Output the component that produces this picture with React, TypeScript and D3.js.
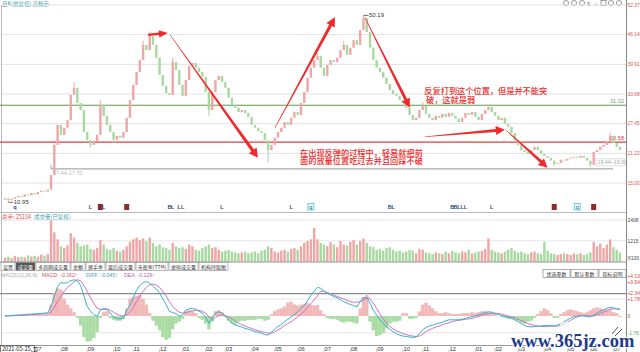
import React from 'react';
import * as d3 from 'd3';

// each value ~ 3 trading days, grouped by month (2021-05 .. 2023-07)
const closes = [
  11.8, 11.4,
  11.7, 12.0, 12.3, 12.1, 12.6, 12.4, 12.9,
  12.6, 13.1, 13.4, 13.2, 13.6, 16.7, 23.0, 27.2,
  25.1, 26.6, 28.2, 33.5, 35.0, 31.8, 30.3, 25.7,
  24.0, 23.0, 23.6, 25.1, 31.4, 29.1, 27.2, 25.7,
  24.1, 24.9, 24.5, 25.7, 28.7, 32.4,
  35.6, 38.3, 40.8, 44.0, 42.9, 45.9, 44.0, 41.3,
  37.7, 35.4, 33.9, 33.5, 40.4, 38.7, 35.6,
  33.3, 36.6, 39.6, 40.2, 39.2, 38.3, 37.3,
  34.1, 30.3, 34.1, 36.6, 37.5, 36.2,
  35.0, 32.9, 31.4, 30.8, 29.9, 30.3, 29.7, 28.9,
  27.2, 26.6, 25.9, 25.5, 24.0, 21.9, 23.0,
  24.5, 25.7, 26.6, 27.8, 27.2, 28.7, 29.9,
  29.3, 31.8, 34.1, 37.1, 39.2, 40.8, 41.7, 39.2,
  37.5, 39.8, 40.8, 40.4, 41.3, 42.9, 44.0, 41.9,
  43.4, 45.0, 44.0, 47.1, 49.6, 46.7, 43.4, 40.8,
  39.2, 38.3, 37.1, 35.8, 34.5, 33.7, 33.3, 32.4,
  31.8, 30.8, 29.3, 28.2, 28.7, 30.3,
  31.2, 29.5, 28.7, 28.2, 29.1, 28.7, 29.5, 28.9,
  29.7, 29.1, 28.5, 27.8, 28.7, 29.7, 29.3, 29.9,
  28.9, 28.2, 29.5, 30.3, 31.0, 29.9,
  29.1, 28.2, 28.7, 27.4, 26.8, 25.5, 24.0,
  23.0, 21.9, 21.5, 21.1, 21.9, 22.6, 21.9, 21.1,
  20.7, 20.3, 19.7, 19.0, 19.2, 19.9, 19.7,
  20.1, 20.3, 20.5, 20.3, 20.7, 20.3, 19.7,
  18.8, 21.5, 21.9, 22.6, 23.0, 23.6, 24.9,
  23.4, 22.6, 21.9,
];
const firstOpen = 11.5;

const volumes = [
  250, 300, 220, 350, 280, 300, 260, 380, 320, 350, 300, 420, 360, 450,
  2400, 1700, 1300,
  900, 800, 950, 1650, 1400, 1100, 900, 950,
  1000, 750, 700, 800, 1250, 1000, 750, 700,
  800, 650, 600, 700, 900, 1150,
  1300, 1400, 1250, 1350, 1200, 1400, 1100, 900,
  1000, 850, 800, 700, 1100, 900, 800,
  850, 750, 1000, 900, 700, 650, 800,
  900, 1000, 800, 850, 700, 600,
  650, 700, 600, 550, 500, 550, 600, 500,
  550, 600, 500, 650, 700, 900, 800,
  600, 550, 650, 700, 600, 750, 800,
  700, 900, 1100, 1200, 1300, 1950, 1300, 1100,
  1000, 900, 1150, 1000, 850, 1200, 1000, 950,
  1150, 1250, 1000, 1200, 1350, 1100, 900, 850,
  700, 750, 650, 800, 850, 700, 600, 650,
  550, 600, 700, 650, 500, 750,
  700, 550, 500, 450, 550, 500, 450, 600,
  500, 650, 550, 500, 600, 550, 700, 500,
  550, 600, 650, 750, 1350, 700,
  600, 550, 500, 600, 700, 800, 650,
  550, 600, 500, 450, 550, 600, 500, 450,
  1150, 650, 500, 450, 400, 450, 500,
  450, 400, 500, 450, 500, 400, 450,
  550, 1150, 900, 1050, 800, 1000, 1300,
  850, 700, 550,
];

const diffLine = [
  0.0, 0.02, 0.05, 0.08, 0.1, 0.12, 0.15, 0.18, 0.2, 0.22, 0.25, 0.28, 0.3, 0.33,
  1.0, 2.1, 3.1,
  3.5, 3.45, 3.5, 3.7, 3.8, 3.7, 3.2, 2.1,
  1.0, 0.5, 0.15, -0.05, 0.6, 0.8, 0.7, 0.3,
  -0.1, -0.25, -0.3, -0.2, 0.6, 1.1,
  1.9, 2.7, 3.2, 3.5, 3.6, 3.45, 3.1, 2.8,
  2.4, 1.8, 1.2, 0.5, 0.35, 0.25, 0.0,
  0.1, 0.6, 0.75, 0.8, 0.7, 0.5, 0.3,
  -0.1, -0.75, -0.2, 0.3, 0.45, 0.3,
  0.0, -0.4, -0.75, -0.95, -1.05, -1.15, -1.3, -1.4,
  -1.5, -1.65, -1.7, -1.8, -1.95, -2.0, -1.7,
  -1.4, -1.1, -0.9, -0.6, -0.35, -0.1, 0.15,
  0.45, 0.8, 1.1, 1.6, 2.2, 2.6, 3.0, 2.9,
  2.6, 2.4, 2.2, 2.05, 1.9, 1.7, 1.5, 1.35,
  1.2, 1.1, 0.95, 1.5, 1.95, 1.9, 1.35, 0.6,
  0.1, -0.4, -0.8, -1.1, -1.4, -1.65, -1.85, -2.0,
  -2.1, -2.15, -2.2, -2.25, -2.2, -1.85,
  -1.45, -1.2, -1.05, -0.95, -0.85, -0.75, -0.65, -0.5,
  -0.4, -0.4, -0.4, -0.4, -0.35, -0.25, -0.15, -0.05,
  0.0, 0.1, 0.25, 0.35, 0.45, 0.4,
  0.25, 0.15, 0.05, -0.05, -0.15, -0.25, -0.4,
  -0.6, -0.8, -1.0, -1.1, -1.15, -1.1, -1.05, -1.05,
  -1.0, -1.0, -1.0, -1.05, -0.95, -0.8, -0.6,
  -0.4, -0.2, -0.05, 0.0, 0.05, 0.0, -0.05,
  -0.1, 0.1, 0.3, 0.5, 0.65, 0.8, 0.9,
  0.85, 0.75, 0.7,
];

const deaLine = [
  0.0, 0.01, 0.02, 0.04, 0.06, 0.08, 0.1, 0.12, 0.14, 0.16, 0.18, 0.2, 0.22, 0.24,
  0.4, 0.9, 1.5,
  2.1, 2.6, 3.0, 3.3, 3.6, 3.8, 3.7, 3.2,
  2.6, 1.9, 1.3, 0.8, 0.7, 0.7, 0.75, 0.6,
  0.4, 0.2, 0.05, 0.0, 0.1, 0.4,
  0.9, 1.5, 2.1, 2.6, 3.0, 3.3, 3.35, 3.25,
  3.0, 2.6, 2.1, 1.5, 1.0, 0.65, 0.4,
  0.3, 0.35, 0.45, 0.55, 0.6, 0.6, 0.5,
  0.3, -0.1, -0.35, -0.15, 0.05, 0.1,
  0.05, -0.1, -0.3, -0.5, -0.75, -0.9, -1.05, -1.2,
  -1.3, -1.45, -1.55, -1.65, -1.7, -1.8, -1.8,
  -1.65, -1.45, -1.25, -1.0, -0.8, -0.6, -0.35,
  -0.1, 0.2, 0.5, 0.9, 1.3, 1.7, 2.1, 2.6,
  2.6, 2.45, 2.35, 2.2, 2.05, 1.9, 1.8, 1.65,
  1.5, 1.45, 1.45, 1.5, 1.7, 1.9, 1.8, 1.35,
  0.8, 0.2, -0.3, -0.75, -1.1, -1.35, -1.55, -1.7,
  -1.85, -1.95, -2.05, -2.1, -2.15, -2.1,
  -1.9, -1.65, -1.45, -1.3, -1.15, -1.05, -0.9, -0.8,
  -0.7, -0.6, -0.5, -0.45, -0.4, -0.35, -0.3, -0.25,
  -0.15, -0.05, 0.05, 0.15, 0.25, 0.3,
  0.3, 0.25, 0.2, 0.1, 0.0, -0.1, -0.2,
  -0.35, -0.5, -0.65, -0.8, -0.9, -1.0, -1.05, -1.1,
  -1.1, -1.1, -1.05, -1.05, -1.05, -1.0, -0.85,
  -0.65, -0.45, -0.25, -0.1, 0.0, 0.05, 0.05,
  0.0, 0.0, 0.1, 0.25, 0.4, 0.55, 0.7,
  0.75, 0.75, 0.72,
];

const macdBars = [
  0.05, 0.05, 0.05, 0.05, 0.08, 0.08, 0.1, 0.1, 0.1, 0.12, 0.12, 0.15, 0.15, 0.18,
  1.2, 2.4, 2.9,
  2.8, 1.8, 1.2, 0.8, 0.4, -0.2, -1.0, -2.2,
  -2.7, -2.6, -2.3, -1.7, -0.2, 0.4, 0.5, -0.2,
  -0.4, -0.5, -0.5, -0.3, 0.8, 1.8,
  2.0, 2.1, 2.2, 1.8, 1.2, 0.3, -0.5, -1.0,
  -1.5, -2.2, -2.5, -2.3, -1.4, -0.8, -0.6,
  -0.3, 0.5, 0.6, 0.5, 0.3, -0.2, -0.4,
  -0.8, -1.4, -0.6, 0.5, 0.6, 0.4,
  -0.1, -0.5, -0.8, -0.9, -0.6, -0.5, -0.5, -0.4,
  -0.4, -0.4, -0.3, -0.3, -0.5, -0.4, 0.2,
  0.5, 0.7, 0.8, 1.0, 1.4, 1.5, 1.2,
  1.1, 1.2, 1.3, 1.35, 1.2, 1.1, 1.15, 0.6,
  0.2, -0.2, -0.3, -0.3, -0.4, -0.6, -0.7, -0.6,
  -0.6, -0.7, -0.8, 0.8, 2.0, 2.2, -0.6, -1.5,
  -2.1, -2.0, -1.8, -1.3, -0.8, -0.6, -0.6, -0.5,
  0.3, 0.3, -0.3, -0.3, -0.2, 0.5,
  1.2, 1.4, 1.1, 0.8, 0.5, 0.3, 0.3, 0.4,
  0.3, 0.2, 0.2, 0.2, 0.3, 0.3, 0.3, 0.4,
  0.3, 0.4, 0.5, 0.5, 0.4, 0.3,
  0.2, 0.0, -0.1, -0.2, -0.3, -0.3, -0.4,
  -0.5, -0.7, -0.8, -0.6, -0.5, -0.2, 0.2, 0.5,
  0.8, 0.6, 0.3, -0.2, -0.2, 0.2, 0.4,
  0.6, 0.7, 0.6, 0.5, 0.4, 0.3, 0.4,
  0.6, 0.8, 0.9, 0.8, 0.7, 0.7, 0.6,
  0.4, 0.3, -0.1,
];

const monthLabels = ['07', '08', '09', '10', '11', '12', '01', '02', '03', '04', '05', '06',
  '07', '08', '09', '10', '11', '12', '01', '02', '03', '04', '05', '06', '07'];
const monthStartIdx = [9, 17, 25, 33, 39, 47, 54, 61, 67, 75, 82, 89,
  97, 105, 113, 121, 127, 135, 143, 149, 156, 164, 171, 178, 185];

const priceTicks = [52.37, 46.14, 39.91, 33.68, 27.45, 21.22, 15.0];
const volTicks = [2408, 1215];
const macdTicks = [4.13, 3.54, 2.34, 1.78, 0, -1.76];

// sparse wicks [index, price]
const highWicks = [[109, 50.19], [44, 46.8], [21, 36.2], [29, 32.4], [51, 41.3], [127, 31.9], [184, 25.6], [103, 44.8], [95, 42.3], [42, 44.9]];
const lowWicks = [[1, 10.95], [80, 19.2], [62, 29.0], [178, 18.4], [33, 23.4], [167, 18.6], [26, 22.4]];

const levels = [
  { price: 31.32, color: '#5e9e48', label: '31.32', labelColor: '#7a9a70' },
  { price: 23.58, color: '#e83a3a', label: '23.58', labelColor: '#e83a3a' },
];
const boxLevel = { price: 17.97, fromIdx: 14, left: '17.44-17.70', right: '19.44~19.60' };
const extremes = [
  { idx: 1, price: 10.95, label: '10.95' },
  { idx: 109, price: 50.19, label: '50.19' },
];

const events = [
  { idx: 3, kind: 'q' }, { idx: 26, kind: 'L' }, { idx: 29, kind: 'R' }, { idx: 30, kind: 'L' },
  { idx: 37, kind: 'R' }, { idx: 50, kind: 'B' }, { idx: 51, kind: 'L' }, { idx: 53, kind: 'L' },
  { idx: 54, kind: 'L' }, { idx: 66, kind: 'L' }, { idx: 87, kind: 'L' }, { idx: 93, kind: 'Q' },
  { idx: 117, kind: 'B' }, { idx: 118, kind: 'L' }, { idx: 136, kind: 'B' }, { idx: 137, kind: 'B' },
  { idx: 138, kind: 'L' }, { idx: 139, kind: 'L' }, { idx: 140, kind: 'L' }, { idx: 148, kind: 'L' },
  { idx: 167, kind: 'R' }, { idx: 174, kind: 'Q' }, { idx: 179, kind: 'R' },
];

// hand drawn arrows, in [index, price]
const arrowNotes = [
  { from: [43.5, 46.1], to: [49.5, 46.5], w0: 2.2, w1: 2.4 },
  { from: [50.2, 46.1], to: [76.9, 20.3], w0: 0.5, w1: 3.2 },
  { from: [82.1, 26.6], to: [100.3, 49.8], w0: 0.5, w1: 3.2 },
  { from: [109.4, 49.8], to: [123.1, 30.8], w0: 0.5, w1: 3.0 },
  { from: [127.7, 24.7], to: [152, 26.2], w0: 0.5, w1: 3.0 },
  { from: [152.3, 26.1], to: [165, 18.2], w0: 0.5, w1: 3.0 },
];
const noteLines = [
  { at: [127.5, 33.7], text: '反复打到这个位置，但是并不能突' },
  { at: [128, 31.8], text: '破，这就是弱' },
  { at: [89.7, 20.7], text: '在出现反弹的过程中，轻易就把前' },
  { at: [89.7, 19.0], text: '面的放量位置吃过去并且回踩不破' },
];

const tabs = ['设置', '成交量', '多周期成交量', '金额', '换手率', '盘后成交量', '市盈率(TTM)', '虚拟成交量', '机构持股图'];
const rightButtons = ['优选参数', '默认参数', '指标说明'];

const UP = '#f0a6a6';
const DOWN = '#a8d9a1';
const CJK = "'Noto Sans CJK SC', sans-serif";
const NUM = "'Liberation Sans', Arial, sans-serif";

function arrowPath(x0: number, y0: number, x1: number, y1: number, w0: number, w1: number) {
  const dx = x1 - x0, dy = y1 - y0, len = Math.hypot(dx, dy);
  const ux = dx / len, uy = dy / len, nx = -uy, ny = ux;
  const head = Math.min(9, len * 0.45), hw = Math.max(w1 * 1.5, 3.6);
  const bx = x1 - ux * head, by = y1 - uy * head;
  const pts = [
    [x0 + nx * w0 / 2, y0 + ny * w0 / 2], [bx + nx * w1 / 2, by + ny * w1 / 2], [bx + nx * hw, by + ny * hw],
    [x1, y1], [bx - nx * hw, by - ny * hw], [bx - nx * w1 / 2, by - ny * w1 / 2], [x0 - nx * w0 / 2, y0 - ny * w0 / 2],
  ];
  return 'M' + pts.map(p => p[0].toFixed(1) + ',' + p[1].toFixed(1)).join('L') + 'Z';
}

const App = () => {
  const n = closes.length;
  const x = d3.scaleLinear().domain([0, n - 1]).range([5, 620]);
  const py = d3.scaleLinear().domain([15, 52.37]).range([183, 5]);
  const vy = d3.scaleLinear().domain([0, 2408]).range([262, 220]);
  const my = d3.scaleLinear().domain([0, 4.13]).range([316, 276.6]);
  const axisX = 626.5;

  const opens = closes.map((c, i) => (i === 0 ? firstOpen : closes[i - 1]));
  const isUp = (i: number) => closes[i] >= opens[i];

  const diffPath = d3.line<number>().x((_, i) => x(i)).y(d => my(d))(diffLine) || '';
  const deaPath = d3.line<number>().x((_, i) => x(i)).y(d => my(d))(deaLine) || '';

  let tabX = 1;
  const tabBoxes = tabs.map(t => {
    let w = 4;
    for (const ch of t) w += /[\u4e00-\u9fff]/.test(ch) ? 5 : 2.6;
    const b = { t, x: tabX, w };
    tabX += w + 1;
    return b;
  });

  const axisLabel = (s: string, y: number, fill: string, key: string) => (
    <text key={key} x={627.5} y={y} dy="0.35em" fontSize={4.9} fontFamily={NUM} fill={fill}>{s}</text>
  );

  return (
    <svg width={640} height={352} style={{ position: 'absolute', left: 0, top: 0, background: '#fff' }}>
      <rect x={0} y={0} width={640} height={352} fill="#fff" />
      {/* header */}
      <text x={2} y={5.5} fontSize={5.5} fontFamily={CJK} fill="#3aa3b3">日K(前复权)  高精示</text>
      {[566, 574, 582, 611, 619].map((cx, k) => (
        <circle key={k} cx={cx} cy={3} r={2.6} fill="none" stroke="#888" strokeWidth={0.8} />
      ))}
      <text x={587} y={5.5} fontSize={6} fontFamily={NUM} fill="#777">5</text>
      <text x={594} y={5.5} fontSize={6} fontFamily={NUM} fill="#777">⌂</text>
      <rect x={601} y={0.5} width={5} height={5} fill="none" stroke="#888" strokeWidth={0.8} />

      {/* price grid */}
      {priceTicks.map(t => (
        <g key={t}>
          <line x1={2} x2={axisX} y1={py(t)} y2={py(t)} stroke="#e2e2e2" />
          {axisLabel(t.toFixed(2), Math.max(py(t), 4), '#d9534f', 'pl' + t)}
        </g>
      ))}
      <line x1={1.5} x2={1.5} y1={5} y2={345} stroke="#bbb" />

      {/* levels */}
      {levels.map(l => (
        <g key={l.label}>
          <line x1={0} x2={axisX} y1={py(l.price)} y2={py(l.price)} stroke={l.color} strokeWidth={1.2} />
          <text x={624} y={py(l.price) - 2} textAnchor="end" fontSize={5.6} fontFamily={NUM} fill={l.labelColor}>{l.label}</text>
        </g>
      ))}
      <g>
        <line x1={x(boxLevel.fromIdx)} x2={613} y1={py(boxLevel.price)} y2={py(boxLevel.price)} stroke="#aaa" strokeWidth={1.2} />
        <line x1={x(boxLevel.fromIdx)} x2={x(boxLevel.fromIdx)} y1={py(boxLevel.price)} y2={py(boxLevel.price) - 4} stroke="#aaa" />
        <text x={x(boxLevel.fromIdx) + 2} y={py(boxLevel.price) + 6} fontSize={5.5} fontFamily={NUM} fill="#bbb">{boxLevel.left}</text>
        <rect x={596} y={py(boxLevel.price) - 10} width={29} height={7} fill="#fff" stroke="#ccc" strokeWidth={0.6} />
        <text x={597.5} y={py(boxLevel.price) - 4.5} fontSize={5.3} fontFamily={NUM} fill="#aaa">{boxLevel.right}</text>
      </g>

      {/* candles */}
      {highWicks.map(([i, h]) => (
        <line key={'h' + i} x1={x(i)} x2={x(i)} y1={py(h)} y2={py(Math.max(opens[i], closes[i]))} stroke={isUp(i) ? UP : DOWN} />
      ))}
      {lowWicks.map(([i, l]) => (
        <line key={'l' + i} x1={x(i)} x2={x(i)} y1={py(l)} y2={py(Math.min(opens[i], closes[i]))} stroke={isUp(i) ? UP : DOWN} />
      ))}
      {closes.map((c, i) => {
        const top = py(Math.max(c, opens[i]));
        const h = Math.max(1, Math.abs(py(c) - py(opens[i])));
        return <rect key={i} x={x(i) - 1.2} y={top} width={2.4} height={h} fill={isUp(i) ? UP : DOWN} />;
      })}
      {extremes.map(e => (
        <g key={e.label}>
          <line x1={x(e.idx)} x2={x(e.idx) + 5} y1={py(e.price)} y2={py(e.price)} stroke="#333" strokeWidth={0.7} />
          <text x={x(e.idx) + 5.5} y={py(e.price)} dy="0.35em" fontSize={6} fontFamily={NUM} fill="#333">{e.label}</text>
        </g>
      ))}

      {/* annotations */}
      {arrowNotes.map((a, k) => (
        <path key={k} d={arrowPath(x(a.from[0]), py(a.from[1]), x(a.to[0]), py(a.to[1]), a.w0, a.w1)} fill="#f02a2a" />
      ))}
      {noteLines.map((t, k) => (
        <text key={k} x={x(t.at[0])} y={py(t.at[1])} fontSize={8.2} fontFamily={CJK} fontWeight={500} fill="#ee2a2a">{t.text}</text>
      ))}

      {/* events row */}
      {events.map((e, k) => {
        const cx = x(e.idx);
        if (e.kind === 'R') return <rect key={k} x={cx - 2.5} y={204} width={5} height={6} fill="#8e2a2a" />;
        if (e.kind === 'Q') return (
          <g key={k}>
            <rect x={cx - 3} y={203.5} width={6} height={6.5} fill="#e8f8fb" stroke="#45c8dc" strokeWidth={0.8} />
            <text x={cx} y={209} textAnchor="middle" fontSize={5.5} fontFamily={NUM} fill="#2a5a8a">q</text>
          </g>
        );
        return <text key={k} x={cx} y={209} textAnchor="middle" fontSize={5.5} fontWeight="bold" fontFamily={NUM} fill="#2d4a7a">{e.kind}</text>;
      })}

      {/* volume panel */}
      <line x1={0} x2={axisX} y1={212.5} y2={212.5} stroke="#bbb" />
      <text x={2} y={218.5} fontSize={5.5} fontFamily={CJK} fill="#e05050">总手: 25234</text>
      <text x={34} y={218.5} fontSize={5.5} fontFamily={CJK} fill="#3aa3b3">成交量(已复权)</text>
      {volTicks.map(t => (
        <g key={t}>
          <line x1={2} x2={axisX} y1={vy(t)} y2={vy(t)} stroke="#e6e6e6" />
          {axisLabel(String(t), vy(t), '#444', 'vl' + t)}
        </g>
      ))}
      {axisLabel('X100', 258, '#444', 'x100')}
      {volumes.map((v, i) => (
        <rect key={i} x={x(i) - 1.2} y={vy(v)} width={2.4} height={vy(0) - vy(v)} fill={isUp(i) ? UP : DOWN} />
      ))}

      {/* tabs */}
      <line x1={0} x2={axisX} y1={262} y2={262} stroke="#999" />
      {tabBoxes.map((b, k) => (
        <g key={b.t}>
          <rect x={b.x} y={262.5} width={b.w} height={8} fill={k === 1 ? '#555' : '#fff'} stroke="#888" strokeWidth={0.6} />
          <text x={b.x + b.w / 2} y={268.8} textAnchor="middle" fontSize={5} fontFamily={CJK} fill={k === 1 ? '#fff' : '#333'}>{b.t}</text>
        </g>
      ))}
      {rightButtons.map((t, k) => (
        <g key={t}>
          <rect x={543 + k * 28} y={269.5} width={27} height={8} fill="#fff" stroke="#777" strokeWidth={0.6} />
          <text x={556.5 + k * 28} y={275.8} textAnchor="middle" fontSize={5} fontFamily={CJK} fill="#333">{t}</text>
        </g>
      ))}

      {/* macd panel */}
      <text x={1} y={276.5} fontSize={5.2} fontFamily={NUM} fill="#aaa">MACD(12,26,9):</text>
      <text x={42} y={276.5} fontSize={5.2} fontFamily={NUM} fill="#e05050">MACD: -0.162↑</text>
      <text x={86} y={276.5} fontSize={5.2} fontFamily={NUM} fill="#3aa3b3">DIFF: -0.045↑</text>
      <text x={124} y={276.5} fontSize={5.2} fontFamily={NUM} fill="#b565b8">DEA: -0.129↑</text>
      <line x1={2} x2={axisX} y1={my(1.78)} y2={my(1.78)} stroke="#e6e6e6" />
      <line x1={2} x2={axisX} y1={my(-1.76)} y2={my(-1.76)} stroke="#e6e6e6" />
      <line x1={0} x2={axisX} y1={my(2.34)} y2={my(2.34)} stroke="#8a8a8a" strokeWidth={1.2} />
      {macdTicks.map(t => axisLabel(t > 0 ? '+' + t.toFixed(2) : t === 0 ? '0' : t.toFixed(2), my(t), t < 0 ? '#4caf50' : '#e04040', 'ml' + t))}
      {macdBars.map((v, i) => (
        <rect key={i} x={x(i) - 1.7} y={v >= 0 ? my(v) : my(0)} width={3.4} height={Math.abs(my(v) - my(0))}
          fill={v >= 0 ? '#f3b8b8' : '#aadca4'} />
      ))}
      <path d={deaPath} fill="none" stroke="#c774c9" strokeWidth={1} />
      <path d={diffPath} fill="none" stroke="#35b2c6" strokeWidth={1} />

      {/* date axis */}
      <line x1={0} x2={axisX} y1={345.5} y2={345.5} stroke="#999" />
      {monthStartIdx.map((idx, k) => (
        <g key={k}>
          <line x1={x(idx)} x2={x(idx)} y1={349} y2={352} stroke="#aaa" strokeWidth={0.6} />
          <text x={x(idx) + 0.5} y={351} fontSize={5.8} fontFamily={NUM} fill="#333">{monthLabels[k]}</text>
        </g>
      ))}
      <rect x={0.5} y={345.5} width={34} height={7} fill="#fff" stroke="#444" strokeWidth={0.7} />
      <text x={2} y={351.3} fontSize={5.6} fontFamily={CJK} fill="#222">2021-05-25,二</text>

      <line x1={axisX} x2={axisX} y1={0} y2={352} stroke="#888" />

      {/* watermark */}
      <rect x={560} y={322} width={64} height={22} fill="#fff" opacity={0.6} />
      <text x={511} y={347} fontSize={18.5} fontWeight="bold" fontFamily="'Liberation Serif', serif" fill="#1d3c8c"
        stroke="#fff" strokeWidth={2.5} paintOrder="stroke">www.365jz.com</text>
      <path d="M612,334 L618,327 M615,336 L622,329" stroke="#222" strokeWidth={0.8} />
    </svg>
  );
};

export default App;
